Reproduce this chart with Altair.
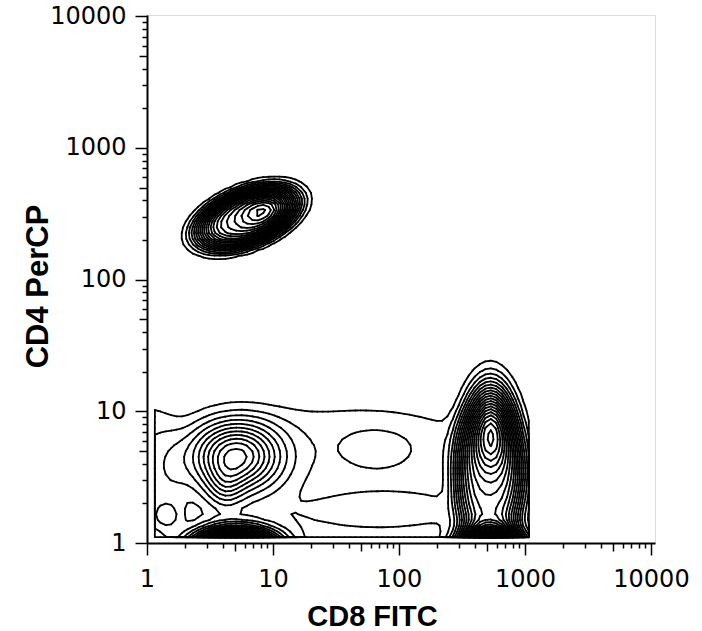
import numpy as np
import pandas as pd
import altair as alt

# ---- populations (log10 decades of CD8 FITC = u, CD4 PerCP = v)
pop_name  = ["CD4 plateau", "CD4 core", "CD8 plateau", "CD8 core", "DN", "DN lobe",
             "low-left pile", "low-right pile", "background", "left edge", "middle island",
             "low tongue", "small left"]
pop_u     = [0.79, 0.92, 2.72, 2.73, 0.71, 0.62, 0.70, 2.73, 1.50, 0.00, 1.82, 1.90, 0.16]
pop_v     = [2.47, 2.52, 0.55, 0.85, 0.66, 0.42, -0.05, -0.05, 0.50, 0.50, 0.73, 0.24, 0.20]
pop_su    = [0.35, 0.14, 0.23, 0.10, 0.24, 0.10, 0.22, 0.17, 1.55, 0.25, 0.27, 0.45, 0.075]
pop_sv    = [0.17, 0.075, 0.53, 0.22, 0.18, 0.12, 0.10, 0.10, 0.50, 0.55, 0.15, 0.10, 0.066]
pop_angle = [20, 20, 0, 0, 0, 0, 0, 0, 0, 0, 0, 0, 0]
pop_amp   = [17, 4.5, 12, 8, 10, 2.5, 30, 30, 1.5, 1.4, 0.9, 1.4, 2.0]
pop_shape = [4, 2, 4, 2, 2, 2, 2, 2, 6, 4, 2, 2, 2]

# data window of the contour grid (decades)
grid_u = [0.063, 3.03]
grid_v = [0.045, 3.40]
levels = list(range(1, 31))

# axis ticks
decades = [1, 10, 100, 1000, 10000]
tick_vals = [m * d for d in decades[:-1] for m in range(1, 10)] + [decades[-1]]

# ---- density grid
us = np.linspace(grid_u[0], grid_u[1], 70)
vs = np.linspace(grid_v[0], grid_v[1], 78)
UU, VV = np.meshgrid(us, vs)
F = np.zeros_like(UU)
for cu, cv, su, sv, ang, amp, p in zip(pop_u, pop_v, pop_su, pop_sv, pop_angle, pop_amp, pop_shape):
    a = np.radians(ang)
    du, dv = UU - cu, VV - cv
    xr = du * np.cos(a) + dv * np.sin(a)
    yr = -du * np.sin(a) + dv * np.cos(a)
    q = (xr / su) ** 2 + (yr / sv) ** 2
    F += amp * np.exp(-0.5 * q ** (p / 2.0))

eps = 0.002
U = np.concatenate([[grid_u[0] - eps], us, [grid_u[1] + eps]])
V = np.concatenate([[grid_v[0] - eps], vs, [grid_v[1] + eps]])
G = np.zeros((len(V), len(U)))
G[1:-1, 1:-1] = F

TABLE = {1: [(3, 0)], 2: [(0, 1)], 3: [(3, 1)], 4: [(1, 2)], 6: [(0, 2)], 7: [(3, 2)],
         8: [(2, 3)], 9: [(0, 2)], 11: [(1, 2)], 12: [(1, 3)], 13: [(0, 1)], 14: [(0, 3)]}


def edge_pt(e, i, j, L):
    if e == 0:
        f0, f1 = G[i, j], G[i, j + 1]
        t = (L - f0) / (f1 - f0)
        return U[j] + t * (U[j + 1] - U[j]), V[i]
    if e == 1:
        f0, f1 = G[i, j + 1], G[i + 1, j + 1]
        t = (L - f0) / (f1 - f0)
        return U[j + 1], V[i] + t * (V[i + 1] - V[i])
    if e == 2:
        f0, f1 = G[i + 1, j], G[i + 1, j + 1]
        t = (L - f0) / (f1 - f0)
        return U[j] + t * (U[j + 1] - U[j]), V[i + 1]
    f0, f1 = G[i, j], G[i + 1, j]
    t = (L - f0) / (f1 - f0)
    return U[j], V[i] + t * (V[i + 1] - V[i])


rows = []
for L in levels:
    B = (G > L).astype(int)
    case = B[:-1, :-1] * 1 + B[:-1, 1:] * 2 + B[1:, 1:] * 4 + B[1:, :-1] * 8
    ii, jj = np.nonzero((case > 0) & (case < 15))
    for i, j in zip(ii, jj):
        c = case[i, j]
        if c in (5, 10):
            centre = (G[i, j] + G[i, j + 1] + G[i + 1, j] + G[i + 1, j + 1]) / 4 > L
            if c == 5:
                segs = [(0, 1), (2, 3)] if centre else [(3, 0), (1, 2)]
            else:
                segs = [(3, 0), (1, 2)] if centre else [(0, 1), (2, 3)]
        else:
            segs = TABLE[c]
        for ea, eb in segs:
            ua, va = edge_pt(ea, i, j, L)
            ub, vb = edge_pt(eb, i, j, L)
            rows.append({"x": float(f"{10 ** ua:.5g}"), "y": float(f"{10 ** va:.5g}"),
                         "x2": float(f"{10 ** ub:.5g}"), "y2": float(f"{10 ** vb:.5g}"),
                         "level": L})

df = pd.DataFrame(rows)

major_test = "abs(log(datum.value)/LN10 - round(log(datum.value)/LN10)) < 1e-6"
mid_test = "abs(datum.value/pow(10, floor(log(datum.value)/LN10 + 1e-6)) - 5) < 1e-6"
tick_size = {"condition": [{"test": major_test, "value": 12}, {"test": mid_test, "value": 8}],
             "value": 5}
label_expr = f"({major_test}) ? format(datum.value, 'd') : ''"

common_axis = dict(values=tick_vals, labelExpr=label_expr, tickSize=tick_size,
                   labelFont="DejaVu Sans", labelFontSize=24, labelColor="black",
                   labelFlush=False, labelOverlap=False, domainColor="black",
                   domainWidth=2, tickColor="black", tickWidth=1.5, grid=False,
                   titleFont="Liberation Sans", titleFontWeight="bold", titleColor="black")

xaxis = alt.Axis(title="CD8 FITC", titleFontSize=29, labelPadding=12,
                 titleX=225, titleY=82, titleAlign="center", titleBaseline="alphabetic",
                 **common_axis)
yaxis = alt.Axis(title="CD4 PerCP", titleFontSize=31, labelPadding=9,
                 titleX=-100, titleY=271, titleAlign="center", titleBaseline="alphabetic",
                 titleAngle=-90, **common_axis)

xscale = alt.Scale(type="log", domain=[1, 10764], nice=False)
yscale = alt.Scale(type="log", domain=[1, 10233], nice=False)

chart = alt.Chart(df).mark_rule(color="black", strokeWidth=1.8, strokeCap="round").encode(
    x=alt.X("x:Q", scale=xscale, axis=xaxis),
    x2="x2:Q",
    y=alt.Y("y:Q", scale=yscale, axis=yaxis),
    y2="y2:Q",
).properties(
    width=508, height=528,
    autosize=alt.AutoSizeParams(type="none"),
    padding={"left": 147, "top": 15, "right": 47, "bottom": 88},
).configure_view(stroke="black", strokeWidth=2).configure(background="white")

chart.save("out.html", embed_options={"renderer": "svg", "actions": False})
